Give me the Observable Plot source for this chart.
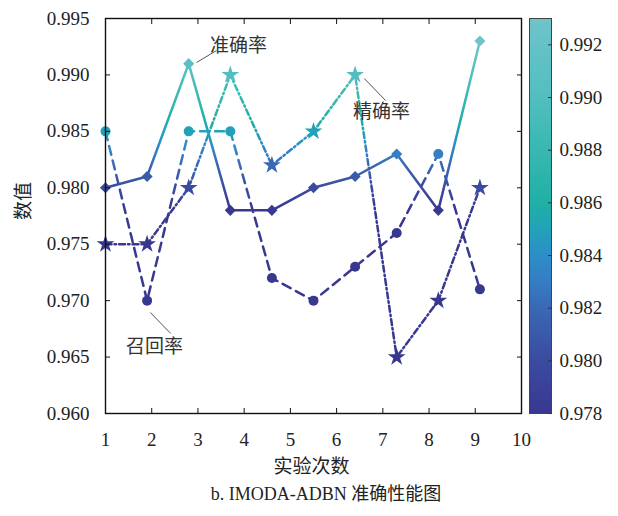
<!DOCTYPE html>
<html>
<head>
<meta charset="utf-8">
<script src="https://cdn.jsdelivr.net/npm/d3@7"></script>
<script src="https://cdn.jsdelivr.net/npm/@observablehq/plot@0.6"></script>
<style>
  html, body { margin: 0; padding: 0; background: #fff; overflow: hidden; }
  #wrap { position: relative; width: 618px; height: 516px; }
  #main, #cbar { position: absolute; top: 0; }
  #main { left: 0; }
  #cbar { left: 529px; }
  #caption { position: absolute; left: 0; top: 484px; width: 618px; padding-left: 34px; box-sizing: border-box;
    text-align: center; font-family: 'Liberation Serif', 'Noto Sans CJK SC', serif; font-size: 18px; line-height: 20px; color: #222; }
</style>
</head>
<body>
<div id="wrap">
  <div id="main"></div>
  <div id="cbar"></div>
  <div id="caption">b. IMODA-ADBN 准确性能图</div>
</div>
<script>
// ---- data ----
const runs = [1, 1.9, 2.8, 3.7, 4.6, 5.5, 6.4, 7.3, 8.2, 9.1];
const accuracy  = [0.980, 0.981, 0.991, 0.978, 0.978, 0.980, 0.981, 0.983, 0.978, 0.993]; // 准确率
const precision = [0.975, 0.975, 0.980, 0.990, 0.982, 0.985, 0.990, 0.965, 0.970, 0.980]; // 精确率
const recall    = [0.985, 0.970, 0.985, 0.985, 0.972, 0.970, 0.973, 0.976, 0.983, 0.971]; // 召回率
const seriesNames = ["准确率", "精确率", "召回率"];
const xTicks = [1, 2, 3, 4, 5, 6, 7, 8, 9, 10];
const yTicks = [0.960, 0.965, 0.970, 0.975, 0.980, 0.985, 0.990, 0.995];
const cbarTicks = [0.978, 0.980, 0.982, 0.984, 0.986, 0.988, 0.990, 0.992];
const cbarDomain = [0.978, 0.993];
// colormap stops (value -> colour)
const colorStops = [0.978, 0.980, 0.982, 0.983, 0.984, 0.985, 0.986, 0.988, 0.990, 0.993];
const colorRange = ["#393890", "#3b4ba0", "#3a68b4", "#357dc4", "#2c8ec8", "#22a2b8", "#20b0a6", "#38b8b0", "#52bec0", "#6ec4ca"];
// annotation labels (data coordinates) and leader lines
const annoText = ["准确率", "精确率", "召回率"];
const annoX = [3.88, 6.97, 2.06];
const annoY = [0.99261, 0.98676, 0.96594];
const leadX1 = [2.97, 6.60, 1.97];
const leadY1 = [0.99110, 0.98968, 0.96895];
const leadX2 = [3.40, 7.06, 2.41];
const leadY2 = [0.99216, 0.98773, 0.96709];

// ---- tables ----
const seriesValues = [accuracy, precision, recall];
const seriesSymbol = ["diamond2", "star", "circle"];
const seriesR = [5, 5.6, 5];
const seriesDash = [null, "6,3,1.5,3", "9,6"];
const rows = seriesValues.map((vals, k) => vals.map((v, i) => ({x: runs[i], y: v, name: seriesNames[k]})));
const annos = annoText.map((t, i) => ({t, x: annoX[i], y: annoY[i], x1: leadX1[i], y1: leadY1[i], x2: leadX2[i], y2: leadY2[i]}));

const font = "'Liberation Serif', 'Noto Sans CJK SC', serif";
const noText = () => "";

const main = Plot.plot({
  width: 618, height: 516,
  marginLeft: 105, marginRight: 97, marginTop: 18, marginBottom: 103,
  style: {fontFamily: font, fontSize: "19px", color: "#222", background: "transparent"},
  x: {domain: [1, 10]},
  y: {domain: [0.960, 0.995]},
  color: {type: "linear", domain: colorStops, range: colorRange, clamp: true, interpolate: "rgb"},
  marks: [
    ...rows.map((r, k) => Plot.line(r, {x: "x", y: "y", stroke: "url(#lineGrad)", strokeWidth: 2.5,
        strokeDasharray: seriesDash[k], strokeLinejoin: "miter"})),
    ...rows.map((r, k) => Plot.dot(r, {x: "x", y: "y", symbol: seriesSymbol[k], fill: "y", r: seriesR[k]})),
    Plot.link(annos, {x1: "x1", y1: "y1", x2: "x2", y2: "y2", stroke: "#555", strokeWidth: 1}),
    Plot.text(annos, {x: "x", y: "y", text: "t", fill: "#333", fontSize: 19}),
    Plot.frame({stroke: "#111", strokeWidth: 1.4}),
    Plot.axisX(xTicks, {anchor: "bottom", tickSize: 0, tickPadding: 19, tickFormat: d => String(d), label: null, fill: "#222"}),
    Plot.axisX(xTicks, {anchor: "bottom", tickSize: -5, tickFormat: noText, label: null, stroke: "#111"}),
    Plot.axisX(xTicks, {anchor: "top", tickSize: -5, tickFormat: noText, label: null, stroke: "#111"}),
    Plot.axisY(yTicks, {anchor: "left", tickSize: 0, tickPadding: 16, tickFormat: d3.format(".3f"), label: null, fill: "#222"}),
    Plot.axisY(yTicks, {anchor: "left", tickSize: -5, tickFormat: noText, label: null, stroke: "#111"}),
    Plot.axisY(yTicks, {anchor: "right", tickSize: -5, tickFormat: noText, label: null, stroke: "#111"}),
    Plot.text(["实验次数"], {text: d => d, frameAnchor: "bottom", dy: 59, dx: -2, fill: "#222", fontSize: 19}),
    Plot.text(["数值"], {text: d => d, frameAnchor: "left", rotate: -90, dx: -82, dy: 4, fill: "#222", fontSize: 19})
  ]
});
document.getElementById("main").appendChild(main);

// gradient for lines: colour follows the y value
{
  const ys = main.scale("y");
  const defs = d3.select(main).insert("defs", ":first-child");
  const lg = defs.append("linearGradient").attr("id", "lineGrad").attr("gradientUnits", "userSpaceOnUse")
    .attr("x1", 0).attr("x2", 0).attr("y1", ys.apply(cbarDomain[0])).attr("y2", ys.apply(cbarDomain[1]));
  colorStops.forEach((v, i) => lg.append("stop")
    .attr("offset", (v - cbarDomain[0]) / (cbarDomain[1] - cbarDomain[0])).attr("stop-color", colorRange[i]));
}

// colour bar
const cbar = Plot.plot({
  width: 89, height: 516,
  marginLeft: 0, marginRight: 67, marginTop: 18, marginBottom: 103,
  style: {fontFamily: font, fontSize: "19px", color: "#222", background: "transparent"},
  x: {domain: [0, 1], axis: null},
  y: {domain: cbarDomain},
  marks: [
    Plot.rect([{x1: 0, x2: 1, y1: cbarDomain[0], y2: cbarDomain[1]}], {x1: "x1", x2: "x2", y1: "y1", y2: "y2", fill: "url(#cbGrad)"}),
    Plot.frame({stroke: "#444", strokeWidth: 1}),
    Plot.axisY(cbarTicks, {anchor: "right", tickSize: 0, tickPadding: 8, tickFormat: d3.format(".3f"), label: null, fill: "#222"}),
    Plot.axisY(cbarTicks, {anchor: "right", tickSize: -4, tickFormat: noText, label: null, stroke: "#333"})
  ]
});
document.getElementById("cbar").appendChild(cbar);
{
  const defs = d3.select(cbar).insert("defs", ":first-child");
  const g = defs.append("linearGradient").attr("id", "cbGrad").attr("x1", 0).attr("x2", 0).attr("y1", 1).attr("y2", 0);
  colorStops.forEach((v, i) => g.append("stop")
    .attr("offset", (v - cbarDomain[0]) / (cbarDomain[1] - cbarDomain[0])).attr("stop-color", colorRange[i]));
}
</script>
</body>
</html>
